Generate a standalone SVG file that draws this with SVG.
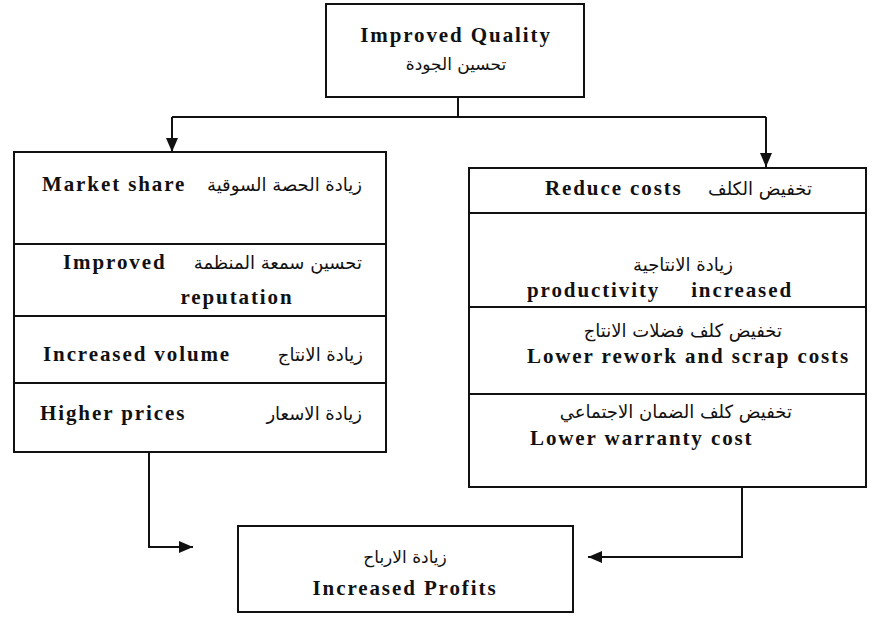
<svg xmlns="http://www.w3.org/2000/svg" width="875" height="620" viewBox="0 0 875 620">
  <defs>
    <style>
      .box { fill: #ffffff; stroke: #111111; stroke-width: 2; }
      .div { stroke: #111111; stroke-width: 2; fill: none; }
      .con { stroke: #111111; stroke-width: 2; fill: none; }
      .en { font-family: "Liberation Serif", "Times New Roman", serif; font-weight: bold; font-size: 21px; letter-spacing: 1.9px; fill: #111111; }
      .ar { font-family: "DejaVu Sans", "Noto Sans", sans-serif; font-size: 18px; fill: #111111; }
      .ar-s { font-family: "DejaVu Sans", "Noto Sans", sans-serif; font-size: 17px; fill: #111111; }
    </style>
    <marker id="arrow" viewBox="0 0 10 10" refX="10" refY="5" markerWidth="14" markerHeight="12" markerUnits="userSpaceOnUse" orient="auto" preserveAspectRatio="none">
      <path d="M0,0 L10,5 L0,10 Z" fill="#111111"/>
    </marker>
  </defs>
  <rect width="875" height="620" fill="#ffffff"/>

  <g id="connectors">
    <path class="con" d="M458,97 L458,117"/>
    <path class="con" d="M172,117 L766,117"/>
    <path class="con" d="M172,117 L172,152" marker-end="url(#arrow)"/>
    <path class="con" d="M766,117 L766,167" marker-end="url(#arrow)"/>
    <path class="con" d="M149,452 L149,547 L193,547" marker-end="url(#arrow)"/>
    <path class="con" d="M742,487 L742,557 L588,557" marker-end="url(#arrow)"/>
  </g>

  <g id="improved-quality">
    <rect class="box" x="326" y="4" width="258" height="93"/>
    <text class="en" x="456" y="42" text-anchor="middle">Improved Quality</text>
    <text class="ar-s" x="456" y="70" text-anchor="middle">تحسين الجودة</text>
  </g>

  <g id="market-side">
    <rect class="box" x="14" y="152" width="372" height="300"/>
    <line class="div" x1="14" y1="244" x2="386" y2="244"/>
    <line class="div" x1="14" y1="316" x2="386" y2="316"/>
    <line class="div" x1="14" y1="383" x2="386" y2="383"/>
    <text class="en" x="42" y="191">Market share</text>
    <text class="ar" x="362" y="191" text-anchor="end">زيادة الحصة السوقية</text>
    <text class="en" x="63" y="269">Improved</text>
    <text class="ar" x="362" y="269" text-anchor="end">تحسين سمعة المنظمة</text>
    <text class="en" x="237" y="304" text-anchor="middle">reputation</text>
    <text class="en" x="43" y="361">Increased volume</text>
    <text class="ar" x="363" y="361" text-anchor="end">زيادة الانتاج</text>
    <text class="en" x="40" y="420">Higher prices</text>
    <text class="ar" x="362" y="420" text-anchor="end">زيادة الاسعار</text>
  </g>

  <g id="cost-side">
    <rect class="box" x="469" y="168" width="397" height="319"/>
    <line class="div" x1="469" y1="213" x2="866" y2="213"/>
    <line class="div" x1="469" y1="307" x2="866" y2="307"/>
    <line class="div" x1="469" y1="394" x2="866" y2="394"/>
    <text class="en" x="545" y="195">Reduce costs</text>
    <text class="ar" x="812" y="195" text-anchor="end">تخفيض الكلف</text>
    <text class="ar" x="683" y="271" text-anchor="middle">زيادة الانتاجية</text>
    <text class="en" x="527" y="297">productivity</text>
    <text class="en" x="793" y="297" text-anchor="end">increased</text>
    <text class="ar" x="782" y="337" text-anchor="end">تخفيض كلف فضلات الانتاج</text>
    <text class="en" x="527" y="363">Lower rework and scrap costs</text>
    <text class="ar" x="792" y="418" text-anchor="end">تخفيض كلف الضمان الاجتماعي</text>
    <text class="en" x="530" y="445">Lower warranty cost</text>
  </g>

  <g id="increased-profits">
    <rect class="box" x="238" y="526" width="335" height="86"/>
    <text class="ar-s" x="405" y="563" text-anchor="middle">زيادة الارباح</text>
    <text class="en" x="405" y="595" text-anchor="middle">Increased Profits</text>
  </g>
</svg>
